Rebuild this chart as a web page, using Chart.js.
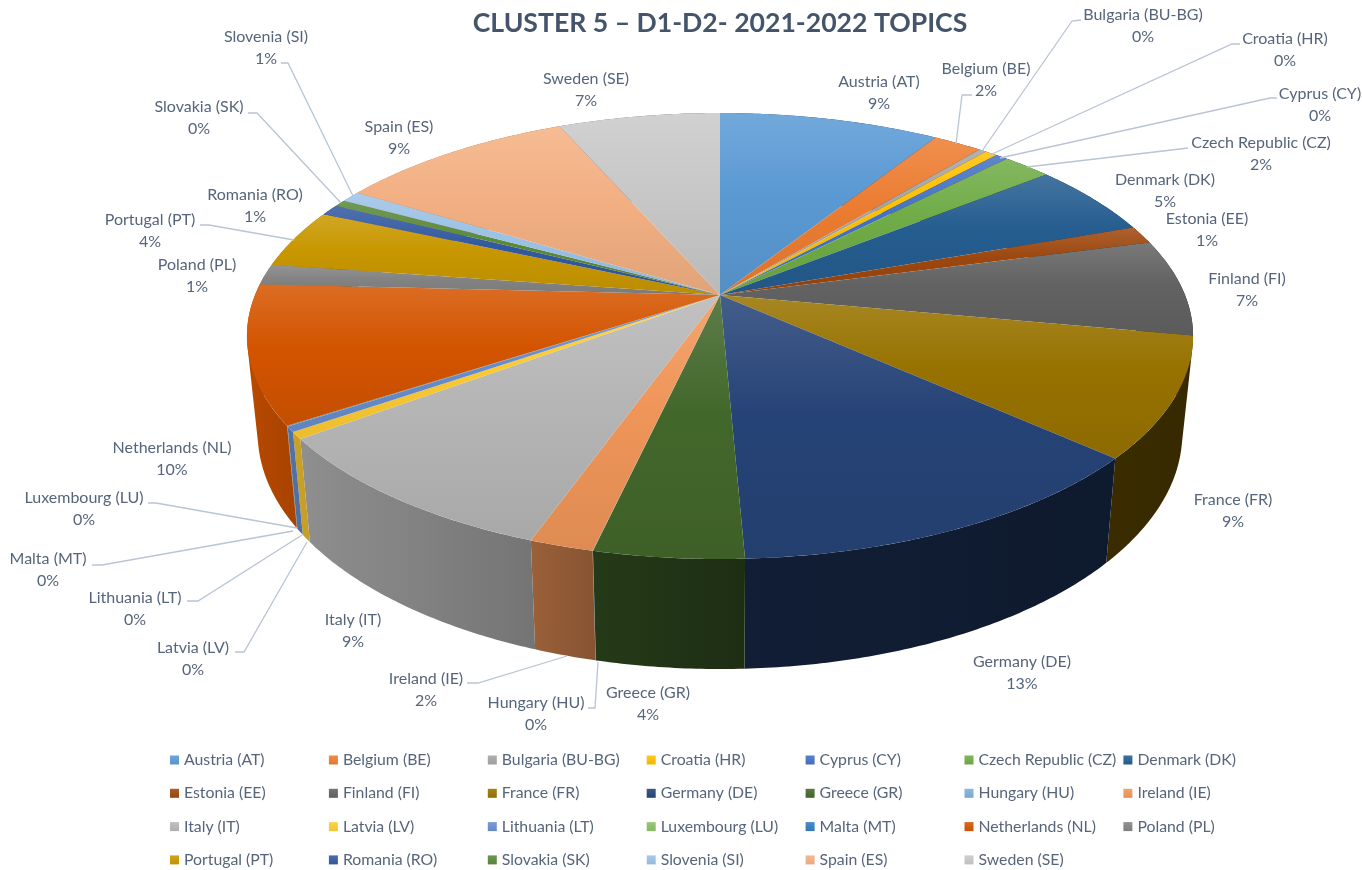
<!DOCTYPE html>
<html>
<head>
<meta charset="utf-8">
<style>html,body{margin:0;padding:0;background:#fff}canvas{display:block}</style>
<script src="https://cdn.jsdelivr.net/npm/chart.js@4"></script>
</head>
<body>
<canvas id="c" width="1362" height="870"></canvas>
<script>
const chartTitle = "CLUSTER 5 – D1-D2- 2021-2022 TOPICS";
const categories = ["Austria (AT)","Belgium (BE)","Bulgaria (BU-BG)","Croatia (HR)","Cyprus (CY)","Czech Republic (CZ)","Denmark (DK)","Estonia (EE)","Finland (FI)","France (FR)","Germany (DE)","Greece (GR)","Hungary (HU)","Ireland (IE)","Italy (IT)","Latvia (LV)","Lithuania (LT)","Luxembourg (LU)","Malta (MT)","Netherlands (NL)","Poland (PL)","Portugal (PT)","Romania (RO)","Slovakia (SK)","Slovenia (SI)","Spain (ES)","Sweden (SE)"];
const shares = [9.0,2.0,0.3,0.5,0.5,2.0,5.3,1.3,7.0,8.7,12.7,4.3,0.01,1.85,9.4,0.5,0.4,0.02,0.02,10.0,1.5,4.3,0.8,0.5,0.8,9.7,6.6];
const percentLabels = ["9%","2%","0%","0%","0%","2%","5%","1%","7%","9%","13%","4%","0%","2%","9%","0%","0%","0%","0%","10%","1%","4%","1%","0%","1%","9%","7%"];
const colours = ["#5B9BD5","#ED7D31","#A5A5A5","#FFC000","#4472C4","#70AD47","#255E91","#9E480E","#636363","#997300","#264478","#43682B","#7CAFDD","#F1975A","#B7B7B7","#FFCD33","#698ED0","#8CC168","#327DC2","#D55500","#848484","#CA9900","#335AA1","#5A8A39","#9DC3E6","#F4B183","#C9C9C9"];

// label layout: centre x, first-line y
const labelX = [879,986,1143,1285,1320,1261,1165,1207,1247,1233,1022,648,536,426,353,193,135,84,48,172,197,150,255,199,266,399,586];
const labelY = [82,69,15,39,94,143,180,219,279,500,662,693,703,679,620,648,598,498,559,448,265,220,195,107,37,127,79];
const leaderLines = [
 [[972,95],[962,95],[956,144]],
 [[1081,20],[1072,21],[982,151]],
 [[1240,44],[1232,44],[990,155]],
 [[1277,98],[1270,98],[1000,158]],
 [[1188,148],[1180,149],[1027,167]],
 [[467,683],[478,683],[567,656]],
 [[588,708],[595,708],[598,662]],
 [[148,503],[156,503],[297,528]],
 [[92,565],[102,565],[293,531]],
 [[187,601],[198,601],[302,535]],
 [[235,652],[244,652],[307,542]],
 [[248,113],[257,113],[341,203]],
 [[281,63],[288,63],[353,196]],
 [[200,225],[209,225],[294,240]]
];
const FONT = "Lato";
const TEXT = "#56657C";

// perspective mapping of the unit disc (top and bottom faces)
const P = {cx:720, c:-0.1839, top:{K:465,a:161.2,b:295}, bot:{K:454.4,a:156,b:390}};
function proj(face, t){
  const u=Math.sin(t), v=-Math.cos(t), d=1+P.c*v;
  return [P.cx+face.K*u/d, (face.a*v+face.b)/d];
}
function rgb(h){return [1,3,5].map(i=>parseInt(h.substr(i,2),16));}
function mix(h,f,w){const c=rgb(h).map(x=>Math.round(x*f+(w||0)*(255-x*f)));return `rgb(${c.join(",")})`;}
const lightX=[[240,.88],[300,.78],[530,.64],[600,.55],[745,.44],[1110,.38],[1200,.36]];
function wallFactor(x){
  for(let i=1;i<lightX.length;i++){
    if(x<=lightX[i][0]){const a=lightX[i-1],b=lightX[i];return a[1]+(b[1]-a[1])*Math.max(0,(x-a[0]))/(b[0]-a[0]);}
  }
  return lightX[lightX.length-1][1];
}
const pie3d = {
  id:"pie3d",
  beforeDatasetDraw(chart){
    const ctx=chart.ctx, arcs=chart.getDatasetMeta(0).data;
    const items=arcs.map((a,i)=>({t0:a.startAngle+Math.PI/2,t1:a.endAngle+Math.PI/2,col:colours[i]}));
    ctx.save();
    // outer wall of each slice: one path of consistently wound quads, so no seams
    items.forEach(s=>{
      const n=Math.max(2,Math.ceil((s.t1-s.t0)/0.01)), up=[], lo=[];
      for(let k=0;k<=n;k++){const t=s.t0+(s.t1-s.t0)*k/n;up.push(proj(P.top,t));lo.push(proj(P.bot,t));}
      const xs=up.concat(lo).map(p=>p[0]), x0=Math.min(...xs), x1=Math.max(...xs);
      const g=ctx.createLinearGradient(x0,0,Math.max(x1,x0+1),0);
      for(let k=0;k<=6;k++){g.addColorStop(k/6,mix(s.col,wallFactor(x0+(x1-x0)*k/6)));}
      ctx.beginPath();
      for(let k=0;k<n;k++){
        let q=[up[k],up[k+1],lo[k+1],lo[k]], area=0;
        q.forEach((p,i)=>{const r=q[(i+1)%4];area+=p[0]*r[1]-r[0]*p[1];});
        if(area<0)q.reverse();
        q.forEach((p,i)=>i?ctx.lineTo(p[0],p[1]):ctx.moveTo(p[0],p[1]));
        ctx.closePath();
      }
      ctx.fillStyle=g;ctx.fill("nonzero");
    });
    // top face
    const centre=[P.cx,P.top.b];
    items.forEach(s=>{
      const n=Math.max(2,Math.ceil((s.t1-s.t0)/0.006)), pts=[centre];
      for(let k=0;k<=n;k++){pts.push(proj(P.top,s.t0+(s.t1-s.t0)*k/n));}
      const ys=pts.map(p=>p[1]), y0=Math.min(...ys), y1=Math.max(...ys);
      const g=ctx.createLinearGradient(0,y0,0,y1+1);
      g.addColorStop(0,mix(s.col,1,.14));
      g.addColorStop(.45,mix(s.col,.99));
      g.addColorStop(1,mix(s.col,.92));
      ctx.beginPath();
      pts.forEach((p,i)=>i?ctx.lineTo(p[0],p[1]):ctx.moveTo(p[0],p[1]));
      ctx.closePath();
      ctx.fillStyle=g;ctx.fill();
    });
    ctx.restore();
    return false;
  },
  afterDatasetsDraw(chart){
    const ctx=chart.ctx;
    ctx.save();
    ctx.strokeStyle="#B9C4D4";ctx.lineWidth=1.3;
    leaderLines.forEach(l=>{ctx.beginPath();l.forEach((p,i)=>i?ctx.lineTo(p[0],p[1]):ctx.moveTo(p[0],p[1]));ctx.stroke();});
    ctx.fillStyle=TEXT;ctx.font=`16px ${FONT}`;ctx.textAlign="center";ctx.textBaseline="middle";
    categories.forEach((c,i)=>{ctx.fillText(c,labelX[i],labelY[i]);ctx.fillText(percentLabels[i],labelX[i],labelY[i]+21.5);});
    // legend, 7 columns x 4 rows
    ctx.textAlign="left";ctx.font=`15.8px ${FONT}`;
    categories.forEach((c,i)=>{
      const col=i%7,row=Math.floor(i/7),x=170+col*158.9,y=760+row*33.3;
      const g=ctx.createLinearGradient(0,y-5,0,y+5);
      g.addColorStop(0,mix(colours[i],1,.12));g.addColorStop(1,mix(colours[i],.95));
      ctx.fillStyle=g;ctx.fillRect(x,y-4.5,9,9);
      ctx.fillStyle=TEXT;ctx.fillText(c,x+14,y);
    });
    ctx.restore();
  }
};
new Chart(document.getElementById("c"),{
  type:"pie",
  data:{labels:categories,datasets:[{data:shares,backgroundColor:colours,borderWidth:0}]},
  options:{
    responsive:false,animation:false,
    layout:{padding:{left:78,right:0,top:0,bottom:0}},
    plugins:{
      legend:{display:false},
      tooltip:{enabled:false},
      title:{display:true,text:chartTitle,fullSize:false,color:"#44546A",font:{family:FONT,size:26.6,weight:"bold"},padding:{top:7,bottom:4}}
    }
  },
  plugins:[pie3d]
});
</script>
</body>
</html>
